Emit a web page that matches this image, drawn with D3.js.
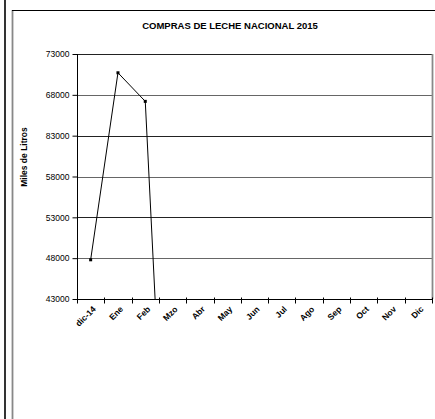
<!DOCTYPE html>
<html><head><meta charset="utf-8">
<script src="https://cdn.jsdelivr.net/npm/d3@7"></script>
<style>body{margin:0;background:#fff}svg{display:block;font-family:"Liberation Sans",Arial,sans-serif}</style>
</head><body>
<svg id="c" width="435" height="419"></svg>
<script>
const categories = ["dic-14","Ene","Feb","Mzo","Abr","May","Jun","Jul","Ago","Sep","Oct","Nov","Dic"];
const values = [47800, 70700, 67200, 0];
const yTicks = [43000, 48000, 53000, 58000, 63000, 68000, 73000];
const yTickLabels = ["43000","48000","53000","58000","83000","68000","73000"];
const title = "COMPRAS DE LECHE NACIONAL 2015";
const yTitle = "Miles de Litros";

const svg = d3.select("#c");
const m = {l:77, r:432, t:54, b:299};
const x = d3.scaleBand().domain(categories).range([m.l, m.r]);
const y = d3.scaleLinear().domain([43000, 73000]).range([m.b, m.t]);

// outer frame
svg.append("line").attr("x1",5).attr("x2",5).attr("y1",0).attr("y2",419).attr("stroke","#000").attr("stroke-width",1.6);
svg.append("line").attr("x1",12.5).attr("x2",12.5).attr("y1",10).attr("y2",419).attr("stroke","#888").attr("stroke-width",1.8);
svg.append("line").attr("x1",12).attr("x2",435).attr("y1",10.5).attr("y2",10.5).attr("stroke","#000").attr("stroke-width",1);

// title
svg.append("text").attr("x",230).attr("y",29).attr("text-anchor","middle")
  .attr("font-size",9.5).attr("font-weight","bold").text(title);
svg.append("text").attr("transform","translate(27,157) rotate(-90)").attr("text-anchor","middle")
  .attr("font-size",8.5).attr("font-weight","bold").text(yTitle);

// gridlines
svg.append("g").selectAll("line").data(yTicks.slice(1)).join("line")
  .attr("x1",m.l).attr("x2",m.r).attr("y1",d=>Math.round(y(d))+0.5).attr("y2",d=>Math.round(y(d))+0.5)
  .attr("stroke",(d,i)=> (i%2===0)?"#666":"#222").attr("stroke-width",1);
// right border
svg.append("line").attr("x1",m.r+0.5).attr("x2",m.r+0.5).attr("y1",m.t).attr("y2",m.b).attr("stroke","#888").attr("stroke-width",1.8);

// y axis
const ya = d3.axisLeft(y).tickValues(yTicks).tickSize(5).tickPadding(3)
  .tickFormat((d,i)=>yTickLabels[i]);
const gy = svg.append("g").attr("transform",`translate(${m.l+0.5},0)`).call(ya);
gy.selectAll("text").attr("font-size",8.5).attr("fill","#000").attr("font-family","Liberation Sans, Arial, sans-serif");
gy.selectAll("line").attr("stroke","#000");
gy.select(".domain").attr("stroke","#000").attr("d",`M0,${m.t}V${m.b}`);

// x axis with ticks at band boundaries
const gx = svg.append("g").attr("transform",`translate(0,${m.b+0.5})`);
gx.append("line").attr("x1",m.l).attr("x2",m.r).attr("stroke","#000");
const bounds = categories.map(c=>x(c)).concat([m.r]);
gx.selectAll("line.t").data(bounds).join("line").attr("class","t")
  .attr("x1",d=>Math.round(d)+0.5).attr("x2",d=>Math.round(d)+0.5).attr("y1",-2).attr("y2",4).attr("stroke","#000");
gx.selectAll("text").data(categories).join("text")
  .attr("transform",d=>`translate(${x(d)+x.bandwidth()/2+1.5},${6}) rotate(-45)`)
  .attr("text-anchor","end").attr("dy","0.7em").attr("font-size",8.5).attr("font-weight","bold").text(d=>d);

// line series
svg.append("clipPath").attr("id","clp").append("rect").attr("x",m.l).attr("y",m.t-6).attr("width",m.r-m.l).attr("height",m.b-m.t+6);
const pts = values.map((v,i)=>[x(categories[i])+x.bandwidth()/2, y(v)]);
svg.append("path").attr("clip-path","url(#clp)").attr("d",d3.line()(pts))
  .attr("fill","none").attr("stroke","#000").attr("stroke-width",1);
svg.append("g").selectAll("rect").data(pts.slice(0,3)).join("rect")
  .attr("x",d=>d[0]-1.5).attr("y",d=>d[1]-1.5).attr("width",3).attr("height",3).attr("fill","#000");
</script>
</body></html>
